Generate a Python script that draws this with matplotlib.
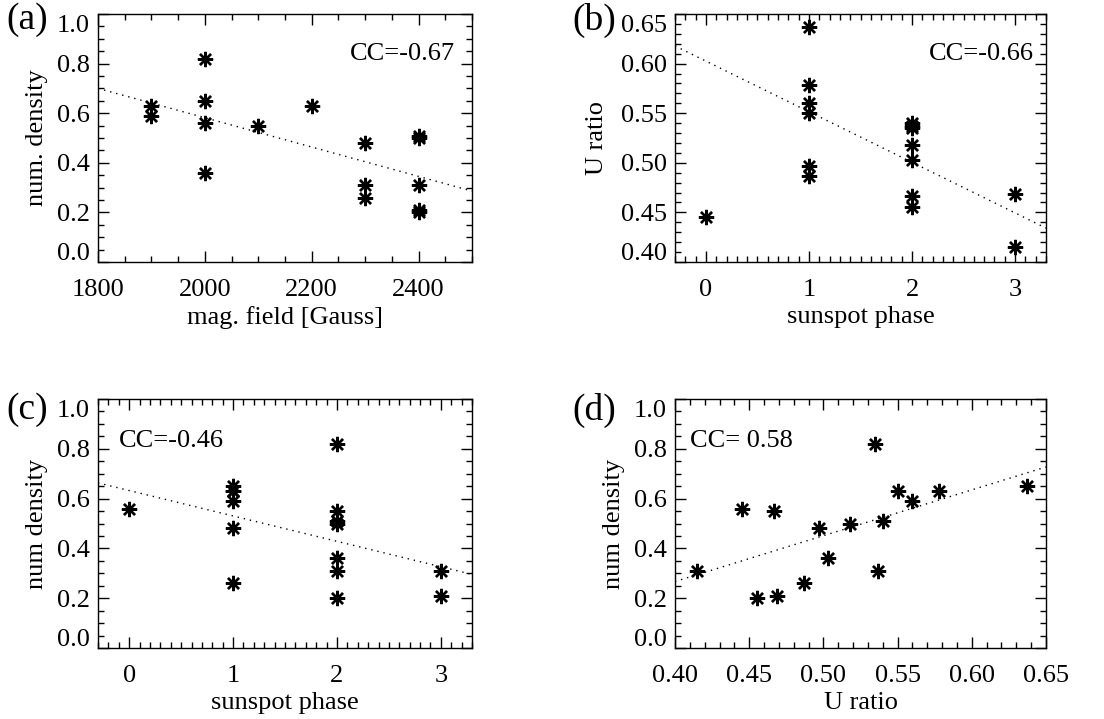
import numpy as np
import matplotlib.pyplot as plt
import matplotlib.transforms as mtransforms
from matplotlib.ticker import MultipleLocator

plt.rcParams['font.family'] = ['Liberation Serif', 'DejaVu Serif']

# one entry per event
u_ratio = [0.415, 0.445, 0.455, 0.467, 0.469, 0.487, 0.497, 0.503,
           0.518, 0.535, 0.537, 0.540, 0.550, 0.560, 0.578, 0.637]
num_density = [0.31, 0.56, 0.20, 0.55, 0.21, 0.26, 0.48, 0.36,
               0.50, 0.82, 0.31, 0.51, 0.63, 0.59, 0.63, 0.65]
sunspot_phase = [3, 0, 2, 2, 3, 1, 1, 2, 2, 2, 2, 2, 1, 1, 1, 1]
mag_field = [2300, 2000, 2400, 2100, 2400, 2300, 2300, 2000,
             2400, 2000, 2400, 2400, 2200, 1900, 1900, 2000]

# correlation coefficients and linear trend lines (a)-(d)
cc_values = [-0.67, -0.66, -0.46, 0.58]
fit_slope = [-5.914e-4, -0.051, -0.102, 1.84]
fit_intercept = [1.7646, 0.6025, 0.6324, -0.469]

FS = 19
fig = plt.figure(figsize=(11.04, 7.19), dpi=100)
W, H = 1104, 719


def make_axes(left, top, right, bottom):
    return fig.add_axes([left / W, 1 - bottom / H, (right - left) / W, (bottom - top) / H])


def style(ax, xmaj, xmin, ymaj, ymin):
    ax.xaxis.set_major_locator(MultipleLocator(xmaj))
    ax.xaxis.set_minor_locator(MultipleLocator(xmin))
    ax.yaxis.set_major_locator(MultipleLocator(ymaj))
    ax.yaxis.set_minor_locator(MultipleLocator(ymin))
    ax.tick_params(which='both', direction='in', top=True, right=True,
                   labelsize=FS, width=1.0)
    ax.tick_params(axis='x', pad=12)
    ax.tick_params(axis='y', pad=6)
    ax.tick_params(which='major', length=8)
    ax.tick_params(which='minor', length=4)
    for s in ax.spines.values():
        s.set_linewidth(1.0)


def scatter_fit(ax, x, y, xlim, k):
    ax.plot(x, y, linestyle='none', marker=(8, 2, 0), markersize=11,
            markeredgewidth=1.7, color='k')
    xx = np.array(xlim, float)
    ax.plot(xx, fit_intercept[k] + fit_slope[k] * xx,
            linestyle=(0, (1.0, 3.5)), color='k', lw=1.0)
    ax.set_xlim(xlim)


def pull_in_end_labels(ax, shift_px=10):
    # keep the first/last y labels inside the frame
    lo, hi = ax.get_ylim()
    for t in ax.yaxis.get_major_ticks():
        loc = t.get_loc()
        if abs(loc - lo) < 1e-9:
            dy = shift_px
        elif abs(loc - hi) < 1e-9:
            dy = -shift_px
        else:
            continue
        off = mtransforms.ScaledTranslation(0, dy / 100, fig.dpi_scale_trans)
        t.label1.set_transform(t.label1.get_transform() + off)


axes = []

# (a)
ax = make_axes(98, 14, 472, 262)
scatter_fit(ax, mag_field, num_density, (1800, 2500), 0)
ax.set_ylim(0, 1)
style(ax, 200, 50, 0.2, 0.05)
ax.set_xlabel('mag. field [Gauss]', fontsize=FS, labelpad=4)
ax.set_ylabel('num. density', fontsize=FS, labelpad=6)
ax.xaxis.set_major_formatter(plt.FuncFormatter(lambda v, _: f'{v:.0f}'))
ax.yaxis.set_major_formatter(plt.FuncFormatter(lambda v, _: f'{v:.1f}'))
ax.text(0.955, 0.84, f'CC={cc_values[0]:.2f}', transform=ax.transAxes,
        ha='right', va='center', fontsize=FS)
axes.append(ax)

# (b)
ax = make_axes(675, 14, 1046, 262)
scatter_fit(ax, sunspot_phase, u_ratio, (-0.3, 3.3), 1)
ax.set_ylim(0.40, 0.65)
style(ax, 1, 0.1, 0.05, 0.01)
ax.set_xlabel('sunspot phase', fontsize=FS, labelpad=4)
ax.set_ylabel('U ratio', fontsize=FS, labelpad=9)
ax.yaxis.set_major_formatter(plt.FuncFormatter(lambda v, _: f'{v:.2f}'))
ax.text(0.968, 0.84, f'CC={cc_values[1]:.2f}', transform=ax.transAxes,
        ha='right', va='center', fontsize=FS)
axes.append(ax)

# (c)
ax = make_axes(98, 399, 472, 648)
scatter_fit(ax, sunspot_phase, num_density, (-0.3, 3.3), 2)
ax.set_ylim(0, 1)
style(ax, 1, 0.1, 0.2, 0.05)
ax.set_xlabel('sunspot phase', fontsize=FS, labelpad=4)
ax.set_ylabel('num density', fontsize=FS, labelpad=6)
ax.yaxis.set_major_formatter(plt.FuncFormatter(lambda v, _: f'{v:.1f}'))
ax.text(0.056, 0.83, f'CC={cc_values[2]:.2f}', transform=ax.transAxes,
        ha='left', va='center', fontsize=FS)
axes.append(ax)

# (d)
ax = make_axes(675, 399, 1046, 648)
scatter_fit(ax, u_ratio, num_density, (0.40, 0.65), 3)
ax.set_ylim(0, 1)
style(ax, 0.05, 0.01, 0.2, 0.05)
ax.set_xlabel('U ratio', fontsize=FS, labelpad=4)
ax.set_ylabel('num density', fontsize=FS, labelpad=6)
ax.xaxis.set_major_formatter(plt.FuncFormatter(lambda v, _: f'{v:.2f}'))
ax.yaxis.set_major_formatter(plt.FuncFormatter(lambda v, _: f'{v:.1f}'))
ax.text(0.04, 0.83, f'CC= {cc_values[3]:.2f}', transform=ax.transAxes,
        ha='left', va='center', fontsize=FS)
axes.append(ax)

# panel letters
for lab, px, py in [('(a)', 6, 20), ('(b)', 572, 20), ('(c)', 6, 410), ('(d)', 572, 410)]:
    fig.text(px / W, 1 - py / H, lab, fontsize=27, ha='left', va='center')

fig.canvas.draw()
for ax in axes:
    pull_in_end_labels(ax)

fig.savefig('out.png', dpi=100)
